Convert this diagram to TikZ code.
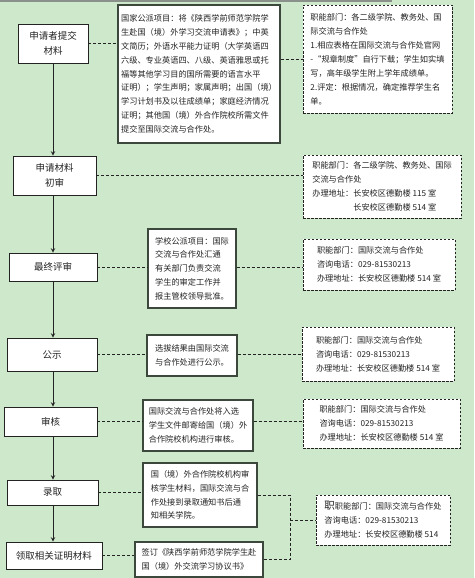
\documentclass[tikz,border=0pt]{standalone}
\usepackage{fontspec}
\setmainfont{Noto Sans CJK SC}
\definecolor{paper}{RGB}{206,232,204}
\definecolor{edge}{RGB}{60,72,60}
\definecolor{ink}{RGB}{35,35,35}

\tikzset{
  stepbox/.style={draw=ink, fill=white, line width=0.7pt, inner sep=2pt, align=center,
    text=ink, font=\fontsize{9.5}{15}\selectfont},
  notebox/.style={draw=edge, fill=white, line width=1.1pt, inner sep=3pt, align=left,
    text=ink, font=\fontsize{8.2}{13.8}\selectfont},
  infobox/.style={draw=ink, dash pattern=on 2.5pt off 1.5pt, fill=white, line width=0.9pt,
    inner sep=3pt, align=left, text=ink, font=\fontsize{8.2}{14}\selectfont},
  link/.style={draw=ink, dash pattern=on 3pt off 2pt, line width=0.7pt}
}

\begin{document}
\begin{tikzpicture}[x=1pt, y=-1pt, >=stealth, line width=0.8pt]

% Page and background
\fill[paper] (0,0) rectangle (474,578);
\useasboundingbox (0,0) rectangle (474,578);
\fill[edge!60] (0,0) rectangle (392,2);

% Define coordinates
\coordinate (spine) at (53,0);
\coordinate (join) at (290,0);

% Steps of the procedure
\node[stepbox, minimum width=70, minimum height=39] (b1) at (53,43.5) {申请者提交\\材料};
\node[stepbox, minimum width=83, minimum height=39] (b2) at (54.5,175.5) {申请材料\\初审};
\node[stepbox, minimum width=88, minimum height=28] (b3) at (53,267) {最终评审};
\node[stepbox, minimum width=90, minimum height=33] (b4) at (52,354.5) {公示};
\node[stepbox, minimum width=93, minimum height=29] (b5) at (50.5,421.5) {审核};
\node[stepbox, minimum width=91, minimum height=25] (b6) at (52.5,492.5) {录取};
\node[stepbox, minimum width=96, minimum height=27] (b7) at (54,555.5) {领取相关证明材料};

% Notes in the middle column
\node[notebox, minimum width=162, minimum height=138] (m1) at (199,74) {%
国家公派项目：将《陕西学前师范学院学\\
生赴国（境）外学习交流申请表》；中英\\
文简历；外语水平能力证明（大学英语四\\
六级、专业英语四、八级、英语雅思或托\\
福等其他学习目的国所需要的语言水平\\
证明）；学生声明；家属声明；出国（境）\\
学习计划书及以往成绩单；家庭经济情况\\
证明；其他国（境）外合作院校所需文件\\
提交至国际交流与合作处。};
\node[notebox, minimum width=88, minimum height=79] (m3) at (192,268.5) {%
学校公派项目：国际\\
交流与合作处汇通\\
有关部门负责交流\\
学生的审定工作并\\
报主管校领导批准。};
\node[notebox, minimum width=90, minimum height=41] (m4) at (192,355.5) {%
选拔结果由国际交流\\
与合作处进行公示。};
\node[notebox, minimum width=110, minimum height=51] (m5) at (198,425.5) {%
国际交流与合作处将入选\\
学生文件邮寄给国（境）外\\
合作院校机构进行审核。};
\node[notebox, minimum width=114, minimum height=64] (m6) at (200,495) {%
国（境）外合作院校机构审\\
核学生材料，国际交流与合\\
作处接到录取通知书后通\\
知相关学院。};
\node[notebox, minimum width=128, minimum height=35] (m7) at (199,559.5) {%
签订《陕西学前师范学院学生赴\\
国（境）外交流学习协议书》};

% Offices on the right
\node[infobox, minimum width=149, minimum height=108] (r1) at (377.5,59) {%
职能部门：各二级学院、教务处、国\\
际交流与合作处\\
1.相应表格在国际交流与合作处官网\\
-“规章制度”自行下载；学生如实填\\
写，高年级学生附上学年成绩单。\\
2.评定：根据情况，确定推荐学生名\\
单。};
\node[infobox, minimum width=158, minimum height=63] (r2) at (382,186.5) {%
职能部门：各二级学院、教务处、国际\\
交流与合作处\\
办理地址：长安校区德勤楼 115 室\\
\hspace*{5em}长安校区德勤楼 514 室};
\node[infobox, minimum width=152, minimum height=51] (r3) at (379,264.5) {%
职能部门：国际交流与合作处\\
咨询电话：029-81530213\\
办理地址：长安校区德勤楼 514 室};
\node[infobox, minimum width=152, minimum height=54] (r4) at (378,354) {%
职能部门：国际交流与合作处\\
咨询电话：029-81530213\\
办理地址：长安校区德勤楼 514 室};
\node[infobox, minimum width=157, minimum height=49] (r5) at (381.5,423.5) {%
职能部门：国际交流与合作处\\
咨询电话：029-81530213\\
办理地址：长安校区德勤楼 514 室};
\node[infobox, minimum width=134, minimum height=50] (r6) at (383,520) {%
{\fontsize{10.5}{14}\selectfont 职}职能部门：国际交流与合作处\\
咨询电话：029-81530213\\
办理地址：长安校区德勤楼 514};

% Arrows between the steps
\foreach \a/\b in {b1/b2, b2/b3, b3/b4, b4/b5, b5/b6, b6/b7}
  \draw[->, draw=ink, line width=1pt] (spine |- \a.south) -- (spine |- \b.north);

% Dashed links
\draw[link] (b1.east) -- (b1.east -| m1.west);
\draw[link] (r1.west -| m1.east) -- (r1.west);
\draw[link] (b2.east) -- (b2.east -| r2.west);
\foreach \s/\m/\r in {b3/m3/r3, b4/m4/r4, b5/m5/r5} {
  \draw[link] (\s.east) -- (\s.east -| \m.west);
  \draw[link] (\s.east -| \m.east) -- (\s.east -| \r.west);
}
\draw[link] (b6.east) -- (b6.east -| m6.west);
\draw[link] (b7.east) -- (b7.east -| m7.west);
\draw[link] (m6.east) -- (join |- m6.east) -- (join |- m7.east) -- (m7.east);
\draw[link] (join |- r6.west) -- (r6.west);

\end{tikzpicture}
\end{document}
